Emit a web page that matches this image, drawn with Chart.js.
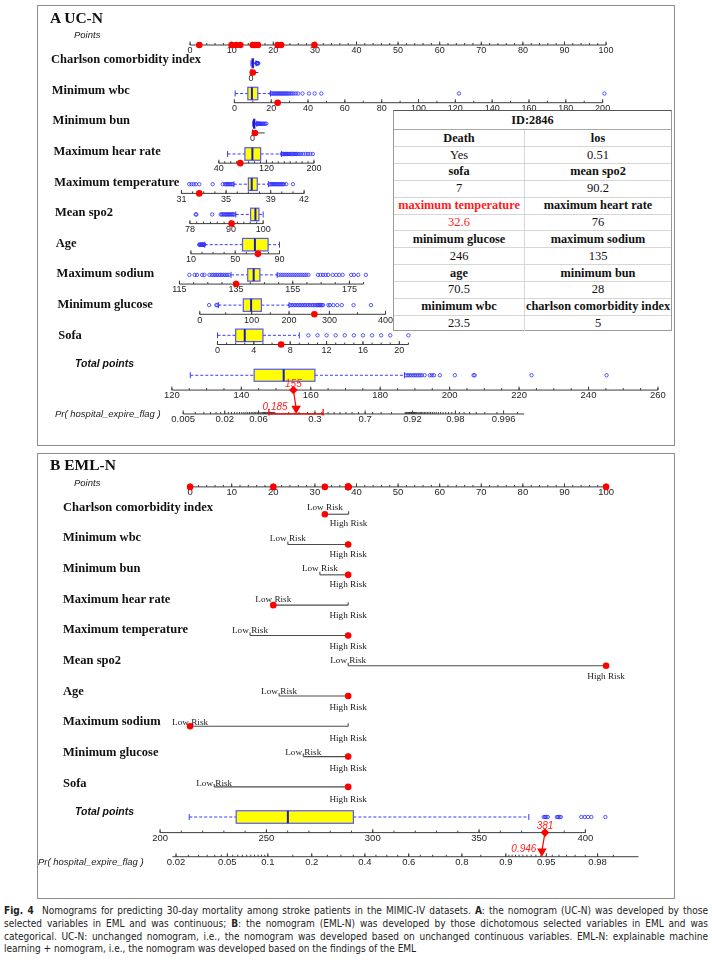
<!DOCTYPE html>
<html>
<head>
<meta charset="utf-8">
<script src="https://cdn.jsdelivr.net/npm/chart.js@4.4.1/dist/chart.umd.min.js"></script>
<style>
  html, body { margin: 0; padding: 0; background: #fff; }
  body { width: 712px; height: 975px; position: relative; overflow: hidden; }
  #c { position: absolute; left: 0; top: 0; }
  .frame { position: absolute; border: 1.5px solid #8c8c8c; box-sizing: border-box; pointer-events: none; }
  .t { position: absolute; white-space: nowrap; transform: translateY(-50%); line-height: 1; color: #111; }
  .title { font: bold 15.5px "Liberation Serif", "Times New Roman", serif; }
  .row { font: bold 12.5px "Liberation Serif", "Times New Roman", serif; }
  .axname { font: italic 9.5px "Liberation Sans", Arial, sans-serif; color: #222; }
  .tot { font: bold italic 10.5px "Liberation Sans", Arial, sans-serif; }
  .risk { font: 9.2px "Liberation Serif", "Times New Roman", serif; color: #222; transform: translate(-50%, -50%); }
  #tbl { position: absolute; left: 393px; top: 110px; width: 279px; height: 221px; background: #fff;
         font-family: "Liberation Serif", "Times New Roman", serif; font-size: 12.5px; color: #111;
         border: 1px solid #9a9a9a; border-top: 1.2px solid #555; box-sizing: border-box; }
  #tbl .r { position: absolute; left: 0; width: 100%; display: flex; border-top: 1.5px solid #d6d6d6; box-sizing: border-box; }
  #tbl .r:first-child { border-top: none; }
  #tbl .r:nth-child(2) { border-top: 1.2px solid #a8a8a8; }
  #tbl .c { text-align: center; white-space: nowrap; overflow: hidden; display: flex; align-items: center; justify-content: center; }
  #tbl .c:first-child { width: 130px; }
  #tbl .c + .c { flex: 1; border-left: 1.5px solid #d6d6d6; }
  #tbl .b { font-weight: bold; font-size: 12.3px; }
  #tbl .red { color: #ff1a1a; }
  #cap { position: absolute; left: 4px; top: 905px; width: 704px; color: #222;
         font: 10px "Liberation Sans Narrow", "Arial Narrow", "DejaVu Sans Condensed", sans-serif; }
  #cap div { text-align: justify; text-align-last: justify; height: 12.8px; line-height: 12.8px; white-space: nowrap; }
  #cap div.last { text-align-last: left; }
</style>
</head>
<body>
<canvas id="c" width="712" height="905"></canvas>
<div class="frame" style="left:37px;top:5px;width:638px;height:441px"></div>
<div class="frame" style="left:37px;top:453px;width:638px;height:446px"></div>

<div id="tbl"></div>

<div id="cap">
  <div><b>Fig. 4</b>&nbsp; Nomograms for predicting 30-day mortality among stroke patients in the MIMIC-IV datasets. <b>A</b>: the nomogram (UC-N) was developed by those</div>
  <div>selected variables in EML and was continuous; <b>B</b>: the nomogram (EML-N) was developed by those dichotomous selected variables in EML and was</div>
  <div>categorical. UC-N: unchanged nomogram, i.e., the nomogram was developed based on unchanged continuous variables. EML-N: explainable machine</div>
  <div class="last">learning + nomogram, i.e., the nomogram was developed based on the findings of the EML</div>
</div>

<script>
// ---------- A  UC-N (continuous nomogram) ----------
const varNames = ['Charlson comorbidity index', 'Minimum wbc', 'Minimum bun', 'Maximum hear rate', 'Maximum temperature',
                  'Mean spo2', 'Age', 'Maximum sodium', 'Minimum glucose', 'Sofa'];
const ucTicks = [[0], [0,20,40,60,80,100,120,140,160,180,200], [0], [40,120,200], [31,35,39,42],
                 [78,90,100], [10,50,90], [115,135,155,175], [0,100,200,300,400], [0,4,8,12,16,20]];
const ucRange = [[0,20], [0,200], [0,150], [40,200], [31,42], [78,100], [10,90], [115,180], [0,400], [0,21]];
const ucMinorStep = [0, 10, 0, 10, 1, 2, 10, 5, 50, 1];
const ucPatient = [5, 23.5, 28, 76, 32.6, 90.2, 70.5, 135, 246, 7];
// whisker low, q1, median, q3, whisker high
const ucBox = [
  [0, 3, 5, 7, 14],
  [0.4, 7.3, 9.5, 12.7, 19.6],
  [1, 12, 18, 28, 52],
  [54.7, 83.8, 96.4, 110.3, 145.5],
  [35.7, 37.0, 37.3, 37.8, 38.8],
  [91.5, 96.1, 97.6, 98.7, 100],
  [22.5, 56.6, 67.8, 79.7, 90],
  [133.2, 139.1, 141.2, 143.4, 149.5],
  [36, 84, 99, 126, 200],
  [0, 2, 3, 5, 9]
];
const ucOutliers = [
  [15, 16, 17, 18, 19, 20],
  [20, 20.6, 21.2, 21.8, 22.4, 23, 23.6, 24.2, 24.8, 25.4, 26, 26.6, 27.2, 27.8, 28.4, 29, 29.7, 30.5, 31.3, 32.2, 33.4, 34.6, 37, 40.5, 43.6, 47.2, 122, 201],
  [55, 60, 66, 72, 80, 88, 95, 104, 115, 128, 140, 155, 170],
  [146, 147.5, 149, 150.5, 152, 153.5, 155, 156.5, 158, 160, 162, 164, 166, 168, 170, 172, 175, 178, 182, 186, 190, 194, 198],
  [31.7, 31.9, 32.1, 32.3, 32.6, 33.8, 34.7, 34.9, 35.0, 35.1, 35.2, 35.3, 35.4, 35.5, 35.6,
   38.9, 39.0, 39.1, 39.2, 39.3, 39.4, 39.5, 39.6, 39.7, 39.8, 39.9, 40.0, 40.1, 40.2, 40.4, 41.0],
  [79.7, 79.9, 84.5, 87, 87.3, 87.6, 88, 88.3, 88.6, 88.9, 89.2, 89.5, 89.8, 90.1, 90.4, 90.7, 91],
  [17.5, 18, 18.5, 19, 19.5, 20, 20.5, 21, 21.5, 22],
  [118.5, 120.4, 121.2, 123, 123.8, 125.6, 126.4, 127, 127.6, 128.2, 128.8, 129.4, 130, 130.6, 131.2, 131.8, 132.4,
   150, 150.7, 151.4, 152.1, 152.8, 153.5, 154.2, 154.9, 155.6, 156.3, 157, 157.7, 158.4, 159.1, 159.8, 160.5,
   163.9, 164.8, 165.7, 166.6, 167.5, 169.1, 170.3, 171.4, 172.6, 175.6, 176.6, 178.1, 180.8],
  [18, 32, 34, 202, 205, 208, 211, 214, 217, 220, 223, 226, 229, 232, 235, 238, 241, 244, 247, 250, 254, 258, 262, 266, 270, 275,
   296, 301, 307, 314, 322, 343, 374],
  [10, 11, 12, 13, 14, 15, 16, 17, 18, 19, 21]
];
// value -> points
const ucToPoints = [
  [[0, 14.63], [20, 16.38]],
  [[0, 10.65], [200, 99.17]],
  [[0, 15.03], [150, 17.94]],
  [[40, 6.91], [200, 29.78]],
  [[31, -2.08], [42, 27.41]],
  [[78, -0.05], [90, 9.82], [100, 17.56]],
  [[10, 0.19], [90, 21.49]],
  [[115, -2.56], [175, 38.30]],
  [[0, 2.32], [100, 14.79], [200, 23.79], [250, 30.41], [300, 33.49], [400, 46.98]],
  [[0, 6.58], [20, 50.30]]
];
const ucTotalTicks = [120, 140, 160, 180, 200, 220, 240, 260];
const ucTotalBox = [125.3, 143.7, 152.2, 161.2, 187];
const ucTotalOutliers = [187.5, 188, 188.5, 189, 189.5, 190, 190.5, 191, 191.5, 192, 192.8, 194.3, 194.9, 195.5, 197.2, 201.5, 206.9, 207.2, 223.6, 245.2];
const ucTotalPatient = 155;
const ucTotalToPoints = [[120, -4.38], [260, 112.47]];
const ucProbTicks = [0.005, 0.02, 0.06, 0.3, 0.7, 0.92, 0.98, 0.996];
const ucProbRange = [0.005, 0.998];
const ucProbPatient = 0.185;
const ucProbCI = [0.083, 0.361];
const ucProbToPoints = { a: 36.05, b: 7.124 };   // points = a + b * logit(p)

// patient table of panel A (header row, value row pairs)
const tableId = 'ID:2846';
const tableHeads = [['Death', 'los'], ['sofa', 'mean spo2'], ['maximum temperature', 'maximum heart rate'],
                    ['minimum glucose', 'maximum sodium'], ['age', 'minimum bun'], ['minimum wbc', 'charlson comorbidity index']];
const tableValues = [['Yes', '0.51'], ['7', '90.2'], ['32.6', '76'], ['246', '135'], ['70.5', '28'], ['23.5', '5']];
const tableHighlight = 'maximum temperature';

// ---------- B  EML-N (dichotomous nomogram) ----------
const emlLowPoints  = [32.4, 23.5, 31.2, 20, 14.4, 38, 21.4, 0, 27.2, 5.8];
const emlHighPoints = [38.1, 38, 38, 38, 38, 100, 38, 38, 38, 38];
const emlPatient = ['Low', 'High', 'High', 'Low', 'High', 'High', 'High', 'Low', 'High', 'High'];
const emlTotalTicks = [200, 250, 300, 350, 400];
const emlTotalBox = [213.7, 235.8, 260.1, 290.9, 373.4];
const emlTotalOutliers = [380.4, 381, 381.6, 382.3, 386.6, 387.2, 387.8, 388.4, 398.1, 399.7, 401.2, 402.8, 409.4];
const emlTotalPatient = 381;
const emlTotalToPoints = [[200, -7.22], [400, 95.03]];
const emlProbTicks = [0.02, 0.05, 0.1, 0.2, 0.4, 0.6, 0.8, 0.9, 0.95, 0.98];
const emlProbRange = [0.0187, 0.9905];
const emlProbPatient = 0.946;
const emlProbToPoints = { a: 47.29, b: 13.02 };

const pointTicks = [0, 10, 20, 30, 40, 50, 60, 70, 80, 90, 100];

// ---------- layout ----------
const ZERO_PX = 187.5, PX_PER_PT = 4.225;
const A_POINTS_Y = 40, A_ROW0 = 58.5, A_ROW_STEP = 30.6, A_AXIS_DY = 9.3;
const A_TOTAL_BOX_Y = 374.3, A_TOTAL_AXIS_Y = 389.3, A_PROB_Y = 413.5;
const B_POINTS_Y = 487.3, B_ROW0 = 515, B_ROW_STEP = 30.67;
const B_TOTAL_BOX_Y = 821.5, B_TOTAL_AXIS_Y = 837.3, B_PROB_Y = 861.7;

const logit = p => Math.log(p / (1 - p));
function toPts(knots, v) {
  let i = 0;
  while (i < knots.length - 2 && v > knots[i + 1][0]) i++;
  const [v0, p0] = knots[i], [v1, p1] = knots[i + 1];
  return p0 + (v - v0) * (p1 - p0) / (v1 - v0);
}
const probPts = (m, p) => m.a + m.b * logit(p);
const aRowY = i => A_ROW0 + A_ROW_STEP * i;
const bRowY = i => B_ROW0 + B_ROW_STEP * i;
function steps(a, b, s) { const r = []; for (let v = a; v <= b + 1e-9; v += s) r.push(+v.toFixed(6)); return r; }
function probSteps(parts) { const r = []; parts.forEach(([a, b, s]) => { for (let p = a; p < b - 1e-9; p += s) r.push(p); }); return r; }

// ---------- datasets ----------
const ucDots = ucPatient.map((v, i) => ({ x: toPts(ucToPoints[i], v), y: aRowY(i) + A_AXIS_DY }));
const ucPointDots = ucPatient.map((v, i) => ({ x: toPts(ucToPoints[i], v), y: A_POINTS_Y }));
const ucOut = [];
ucOutliers.forEach((arr, i) => arr.forEach(v => ucOut.push({ x: toPts(ucToPoints[i], v), y: aRowY(i) })));
ucTotalOutliers.forEach(v => ucOut.push({ x: toPts(ucTotalToPoints, v), y: A_TOTAL_BOX_Y }));
const emlPts = emlPatient.map((lv, i) => lv === 'Low' ? emlLowPoints[i] : emlHighPoints[i]);
const emlDots = emlPts.map((p, i) => ({ x: p, y: bRowY(i) }));
const emlPointDots = emlPts.map(p => ({ x: p, y: B_POINTS_Y }));
const emlOut = emlTotalOutliers.map(v => ({ x: toPts(emlTotalToPoints, v), y: B_TOTAL_BOX_Y }));

const aTot = toPts(ucTotalToPoints, ucTotalPatient), aProb = probPts(ucProbToPoints, ucProbPatient);
const bTot = toPts(emlTotalToPoints, emlTotalPatient), bProb = probPts(emlProbToPoints, emlProbPatient);

const RED = '#ff0000';
const redDot = { pointStyle: 'circle', pointRadius: 3.3, backgroundColor: RED, borderColor: RED, borderWidth: 0 };
const blueRing = { pointStyle: 'circle', pointRadius: 1.7, backgroundColor: 'rgba(0,0,0,0)', borderColor: '#2e2eff', borderWidth: 0.8 };

// ---------- drawing of the nomogram scales ----------
const nomogram = {
  id: 'nomogram',
  beforeDatasetsDraw(chart) {
    const ctx = chart.ctx;
    const X = v => chart.scales.x.getPixelForValue(v);
    const Y = v => chart.scales.y.getPixelForValue(v);
    const seg = (x1, y1, x2, y2) => { ctx.beginPath(); ctx.moveTo(x1, y1); ctx.lineTo(x2, y2); ctx.stroke(); };

    function axis(start, end, y, major, minor, labels, font) {
      ctx.save();
      ctx.strokeStyle = '#3c3c3c'; ctx.lineWidth = 1;
      const yy = Y(y);
      seg(X(start), yy, X(end), yy);
      minor.forEach(p => seg(X(p), yy, X(p), yy - 2));
      major.forEach(p => seg(X(p), yy, X(p), yy - 3.5));
      ctx.fillStyle = '#1e1e1e'; ctx.font = font || '9px "Liberation Sans", Arial, sans-serif';
      ctx.textAlign = 'center'; ctx.textBaseline = 'middle';
      major.forEach((p, k) => ctx.fillText(labels[k], X(p), yy + 5.8));
      ctx.restore();
    }
    function boxplot(stats, y, h) {
      const px = stats.map(X), yc = Y(y);
      ctx.save();
      ctx.strokeStyle = '#3a3aff'; ctx.lineWidth = 1;
      ctx.setLineDash([3, 2]);
      seg(px[0], yc, px[1], yc); seg(px[3], yc, px[4], yc);
      ctx.setLineDash([]);
      seg(px[0], yc - 3, px[0], yc + 3); seg(px[4], yc - 3, px[4], yc + 3);
      ctx.fillStyle = '#ffff00';
      ctx.fillRect(px[1], yc - h / 2, px[3] - px[1], h);
      ctx.strokeStyle = '#5555ff'; ctx.lineWidth = 1.2;
      ctx.strokeRect(px[1], yc - h / 2, px[3] - px[1], h);
      ctx.strokeStyle = '#1c1cb4'; ctx.lineWidth = 2;
      seg(px[2], yc - h / 2, px[2], yc + h / 2);
      ctx.restore();
    }

    // panel A
    axis(0, 100, A_POINTS_Y, pointTicks, steps(0, 100, 2), pointTicks);
    varNames.forEach((n, i) => {
      const m = ucToPoints[i];
      const h = (i === 0 || i === 2) ? 9 : 12.5;
      boxplot(ucBox[i].map(v => toPts(m, v)), aRowY(i), h);
      const minor = ucMinorStep[i] ? steps(ucRange[i][0], ucRange[i][1], ucMinorStep[i]).map(v => toPts(m, v)) : [];
      axis(toPts(m, ucRange[i][0]), toPts(m, ucRange[i][1]), aRowY(i) + A_AXIS_DY,
           ucTicks[i].map(v => toPts(m, v)), minor, ucTicks[i]);
    });
    boxplot(ucTotalBox.map(v => toPts(ucTotalToPoints, v)), A_TOTAL_BOX_Y, 12);
    const f95 = '9.5px "Liberation Sans", Arial, sans-serif';
    axis(toPts(ucTotalToPoints, 120), toPts(ucTotalToPoints, 260), A_TOTAL_AXIS_Y,
         ucTotalTicks.map(v => toPts(ucTotalToPoints, v)), steps(120, 260, 5).map(v => toPts(ucTotalToPoints, v)), ucTotalTicks, f95);
    axis(probPts(ucProbToPoints, ucProbRange[0]), probPts(ucProbToPoints, ucProbRange[1]), A_PROB_Y,
         ucProbTicks.map(p => probPts(ucProbToPoints, p)),
         probSteps([[0.005, 0.1, 0.0025], [0.1, 0.9, 0.05], [0.9, 0.998, 0.0025]]).map(p => probPts(ucProbToPoints, p)),
         ucProbTicks, f95);

    // panel B
    axis(0, 100, B_POINTS_Y, pointTicks, steps(0, 100, 2), pointTicks, '9.5px "Liberation Sans", Arial, sans-serif');
    ctx.save();
    ctx.strokeStyle = '#4a4a4a'; ctx.lineWidth = 1.1;
    varNames.forEach((n, i) => {
      const y = Y(bRowY(i)), lo = X(emlLowPoints[i]), hi = X(emlHighPoints[i]);
      seg(lo, y, hi, y); seg(lo, y, lo, y - 3); seg(hi, y, hi, y - 3);
    });
    ctx.restore();
    boxplot(emlTotalBox.map(v => toPts(emlTotalToPoints, v)), B_TOTAL_BOX_Y, 12.5);
    axis(toPts(emlTotalToPoints, 200), toPts(emlTotalToPoints, 400), B_TOTAL_AXIS_Y,
         emlTotalTicks.map(v => toPts(emlTotalToPoints, v)), steps(200, 400, 10).map(v => toPts(emlTotalToPoints, v)), emlTotalTicks, f95);
    axis(probPts(emlProbToPoints, emlProbRange[0]), probPts(emlProbToPoints, emlProbRange[1]), B_PROB_Y,
         emlProbTicks.map(p => probPts(emlProbToPoints, p)),
         probSteps([[0.02, 0.1, 0.005], [0.1, 0.9, 0.05], [0.9, 0.99, 0.005]]).map(p => probPts(emlProbToPoints, p)),
         emlProbTicks, f95);

    // confidence bar of panel A
    ctx.save();
    ctx.strokeStyle = RED; ctx.lineWidth = 1.3;
    const c0 = X(probPts(ucProbToPoints, ucProbCI[0])), c1 = X(probPts(ucProbToPoints, ucProbCI[1])), cy = Y(A_PROB_Y);
    seg(c0, cy, c1, cy); seg(c0, cy - 5, c0, cy + 1.5); seg(c1, cy - 5, c1, cy + 1.5);
    ctx.restore();
  },
  afterDatasetsDraw(chart) {
    const ctx = chart.ctx;
    const X = v => chart.scales.x.getPixelForValue(v);
    const Y = v => chart.scales.y.getPixelForValue(v);
    ctx.save();
    ctx.fillStyle = '#ff2020'; ctx.font = 'italic 10px "Liberation Sans", Arial, sans-serif';
    ctx.textBaseline = 'middle';
    ctx.textAlign = 'center';
    ctx.fillText(String(ucTotalPatient), X(aTot), Y(A_TOTAL_AXIS_Y) - 6);
    ctx.fillText(String(emlTotalPatient), X(bTot), Y(B_TOTAL_AXIS_Y) - 6.5);
    ctx.textAlign = 'right';
    ctx.fillText(String(ucProbPatient), X(aProb) - 8.5, Y(A_PROB_Y) - 6.5);
    ctx.fillText(String(emlProbPatient), X(bProb) - 5.5, Y(B_PROB_Y) - 7.5);
    ctx.restore();
  }
};

const chart = new Chart(document.getElementById('c').getContext('2d'), {
  type: 'scatter',
  data: {
    datasets: [
      { ...redDot, data: ucDots },
      { ...redDot, data: ucPointDots },
      { ...redDot, data: emlDots },
      { ...redDot, data: emlPointDots },
      { pointStyle: 'rectRot', pointRadius: 4.3, backgroundColor: RED, borderColor: RED, borderWidth: 0,
        data: [{ x: aTot, y: A_TOTAL_AXIS_Y }, { x: bTot, y: B_TOTAL_AXIS_Y }] },
      { pointStyle: 'triangle', pointRotation: 180, pointRadius: 5.5, backgroundColor: RED, borderColor: RED, borderWidth: 0,
        data: [{ x: aProb, y: A_PROB_Y - 5.5 }, { x: bProb, y: B_PROB_Y - 5.5 }] },
      { showLine: true, borderColor: RED, borderWidth: 1.2, pointRadius: 0,
        data: [{ x: aTot, y: A_TOTAL_AXIS_Y }, { x: aProb, y: A_PROB_Y - 6 }] },
      { showLine: true, borderColor: RED, borderWidth: 1.2, pointRadius: 0,
        data: [{ x: bTot, y: B_TOTAL_AXIS_Y }, { x: bProb, y: B_PROB_Y - 6 }] },
      { ...blueRing, data: ucOut },
      { ...blueRing, data: emlOut }
    ]
  },
  options: {
    responsive: false,
    animation: false,
    layout: { padding: 0 },
    scales: {
      x: { type: 'linear', display: false, min: -ZERO_PX / PX_PER_PT, max: (712 - ZERO_PX) / PX_PER_PT },
      y: { type: 'linear', display: false, min: 0, max: 905, reverse: true }
    },
    plugins: { legend: { display: false }, tooltip: { enabled: false } },
    events: []
  },
  plugins: [nomogram]
});

// ---------- patient table ----------
(function buildTable() {
  const tbl = document.getElementById('tbl');
  const ID_H = 18.3, ROW_H = 16.85;
  function row(top, h, cells) {
    const r = document.createElement('div');
    r.className = 'r'; r.style.top = top + 'px'; r.style.height = h + 'px';
    cells.forEach(([txt, cls]) => {
      const c = document.createElement('div');
      c.className = 'c ' + (cls || ''); c.textContent = txt;
      r.appendChild(c);
    });
    tbl.appendChild(r);
  }
  row(0, ID_H, [[tableId, 'b']]);
  tbl.lastChild.firstChild.style.width = '100%';
  tableHeads.forEach((pair, k) => {
    const top = ID_H + ROW_H * 2 * k;
    row(top, ROW_H, pair.map(t => [t, 'b' + (t === tableHighlight ? ' red' : '')]));
    row(top + ROW_H, ROW_H, tableValues[k].map((t, j) => [t, pair[j] === tableHighlight ? 'red' : '']));
  });
})();

// ---------- text labels ----------
function addText(cls, txt, left, top) {
  const d = document.createElement('div');
  d.className = 't ' + cls; d.textContent = txt;
  d.style.left = left + 'px'; d.style.top = top + 'px';
  document.body.appendChild(d);
}
addText('title', 'A UC-N', 50, 18.3);
addText('axname', 'Points', 74, 34.3);
varNames.forEach((n, i) => addText('row', n, 51 + 0.8 * i, aRowY(i) + 0.6));
addText('tot', 'Total points', 75, 363.3);
addText('axname', 'Pr( hospital_expire_flag )', 55, A_PROB_Y - 0.5);

addText('title', 'B EML-N', 50, 465);
addText('axname', 'Points', 74, 481.7);
varNames.forEach((n, i) => {
  addText('row', n, 63, bRowY(i) - 8.3);
  addText('risk', 'Low Risk', chart.scales.x.getPixelForValue(emlLowPoints[i]), bRowY(i) - 8);
  addText('risk', 'High Risk', chart.scales.x.getPixelForValue(emlHighPoints[i]), bRowY(i) + 8);
});
addText('tot', 'Total points', 75, 810.7);
addText('axname', 'Pr( hospital_expire_flag )', 38, B_PROB_Y - 0.5);
</script>
</body>
</html>
